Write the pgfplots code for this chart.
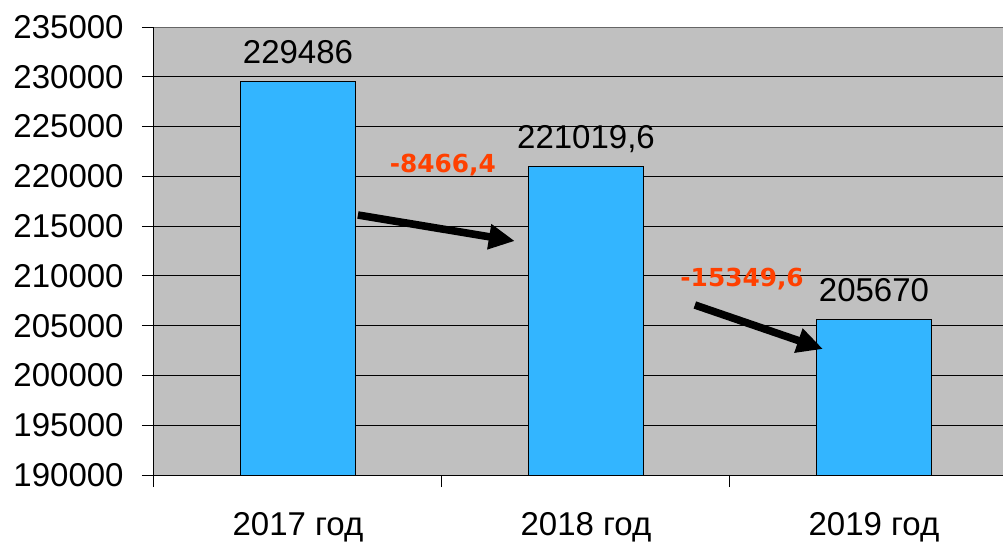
\documentclass[border=0pt]{standalone}
\usepackage{pgfplots}
\pgfplotsset{compat=1.18}
\usepackage{fontspec}
\setmainfont{Liberation Sans}
\newfontfamily\annfont{DejaVu Sans}
\newfontfamily\lib{Liberation Sans}
\usetikzlibrary{arrows.meta}
\definecolor{barblue}{HTML}{33B5FF}
\definecolor{plotgray}{HTML}{C0C0C0}
\definecolor{annred}{HTML}{FF4000}
\newcommand{\tf}{\lib\fontsize{16.5}{19}\selectfont}
\begin{document}
\begin{tikzpicture}
\useasboundingbox (-77pt,-34pt) rectangle (424.5pt,237.5pt);
\begin{axis}[
  scale only axis, width=424.5pt, height=224pt,
  xmin=-0.5, xmax=2.448, ymin=190000, ymax=235000,
  axis lines=left, axis line style={-, black, line width=0.5pt},
  axis background/.style={fill=plotgray},
  ytick=\empty,
  extra y ticks={190000,195000,200000,205000,210000,215000,220000,225000,230000,235000},
  extra y tick labels={190000,195000,200000,205000,210000,215000,220000,225000,230000,235000},
  extra y tick style={grid=major, major tick length=6pt, tick label style={font=\tf, anchor=east, inner sep=0pt, xshift=-9pt}},
  major grid style={black, line width=0.5pt},
  scaled y ticks=false,
  tick align=outside, major tick length=6pt,
  tick style={black, line width=0.5pt},
  xtick={-0.5,0.5,1.5,2.5}, xticklabels={},
  extra x ticks={0,1,2},
  extra x tick labels={2017 год, 2018 год, 2019 год},
  extra x tick style={major tick length=0pt, tick label style={font=\tf, anchor=base, inner sep=0pt, yshift=-30pt}},
]
\addplot[ybar, bar width=57.5pt, fill=barblue, draw=black, line width=0.5pt,
  point meta=explicit symbolic, nodes near coords,
  nodes near coords style={font=\tf, anchor=base, inner sep=0pt, yshift=9pt, text=black}]
  coordinates {(0,229486) [229486] (1,221019.6) [221019,6] (2,205670) [205670]};
\draw[draw=gray!80!black, line width=0.7pt] (axis cs:-0.5,235000) -- (axis cs:2.448,235000);
\node[font=\annfont\bfseries\fontsize{12.4}{14}\selectfont, text=annred] at (axis cs:0.503,221088) {-8466,4};
\node[font=\annfont\bfseries\fontsize{12.4}{14}\selectfont, text=annred] at (axis cs:1.542,209688) {-15349,6};
\draw[line width=3.8pt, -{Triangle[length=13pt,width=12pt]}] (axis cs:0.208,216116) -- (axis cs:0.753,213504);
\draw[line width=3.8pt, -{Triangle[length=13pt,width=12pt]}] (axis cs:1.378,207076) -- (axis cs:1.823,202656);
\end{axis}
\end{tikzpicture}
\end{document}
